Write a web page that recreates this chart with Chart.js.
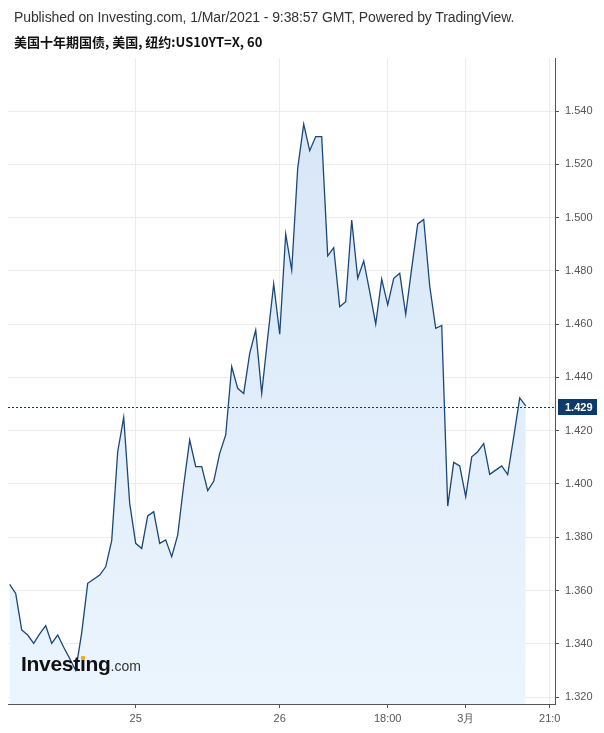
<!DOCTYPE html>
<html>
<head>
<meta charset="utf-8">
<script src="https://cdn.jsdelivr.net/npm/chart.js@4.4.1/dist/chart.umd.min.js"></script>
<style>
    body { margin: 0; background: #fff; }
    #wrap { position: relative; width: 604px; height: 733px; overflow: hidden; }
    #chart { position: absolute; left: 0; top: 0; }
    .head { position: absolute; left: 14px; white-space: nowrap; }
    #line1 { top: 9px; font: 14px "Liberation Sans", Arial, sans-serif; color: #333; letter-spacing: -0.1px; }
    #line2 { top: 32px; font: bold 13px "Noto Sans CJK SC", "Liberation Sans", sans-serif; color: #111; }
    #logo { position: absolute; left: 21px; top: 652px; white-space: nowrap; }
    #logo b { font: bold 21px "Liberation Sans", Arial, sans-serif; color: #111; letter-spacing: -0.3px; }
    #logo span.com { font: 14px "Liberation Sans", Arial, sans-serif; color: #333; }
    #logo .i { position: relative; }
    #logo .i::after { content: ''; position: absolute; left: 1px; top: 4px; width: 4px; height: 4px; background: #f5a623; border-radius: 1px; }
</style>
</head>
<body>
<div id="wrap">
    <canvas id="chart" width="604" height="733"></canvas>
    <div class="head" id="line1">Published on Investing.com, 1/Mar/2021 - 9:38:57 GMT, Powered by TradingView.</div>
    <div class="head" id="line2">美国十年期国债, 美国, 纽约:US10YT=X, 60</div>
    <div id="logo"><b>Invest<span class="i">ı</span>ng</b><span class="com">.com</span></div>
</div>
<script>
// hourly closes, one per bar (bar index 0..86)
const yieldValues = [
    1.3623, 1.3589, 1.3452, 1.3433, 1.3402, 1.3437, 1.3468, 1.3402, 1.3433, 1.3387,
    1.3345, 1.3300, 1.3441, 1.3627, 1.3642, 1.3658, 1.3689, 1.3787, 1.4121, 1.4250,
    1.3927, 1.3777, 1.3758, 1.3880, 1.3896, 1.3777, 1.3790, 1.3727, 1.3808, 1.3996,
    1.4165, 1.4065, 1.4065, 1.3975, 1.4010, 1.4115, 1.4184, 1.4440, 1.4359, 1.4340,
    1.4490, 1.4578, 1.4340, 1.4550, 1.4751, 1.4562, 1.4938, 1.4803, 1.5185, 1.5351,
    1.5251, 1.5304, 1.5304, 1.4856, 1.4887, 1.4665, 1.4684, 1.4991, 1.4772, 1.4837,
    1.4722, 1.4600, 1.4769, 1.4672, 1.4772, 1.4791, 1.4637, 1.4810, 1.4976, 1.4993,
    1.4743, 1.4584, 1.4595, 1.3917, 1.4081, 1.4068, 1.3952, 1.4102, 1.4121, 1.4152,
    1.4036, 1.4052, 1.4068, 1.4035, 1.4177, 1.4323, 1.4293
];
const lastValue = 1.429;

// time axis labels and the bar index they sit on
const xTickLabels = ['25', '26', '18:00', '3月', '21:0'];
const xTickIndex = [21, 45, 63, 76, 90];

const yTickValues = [1.32, 1.34, 1.36, 1.38, 1.40, 1.42, 1.44, 1.46, 1.48, 1.50, 1.52, 1.54];

const navy = '#0d3a68';

const lastPricePlugin = {
    id: 'lastPrice',
    afterDatasetsDraw(chart) {
        const ctx = chart.ctx;
        const area = chart.chartArea;
        const y = Math.round(chart.scales.y.getPixelForValue(lastValue)) + 0.5;
        ctx.save();
        ctx.strokeStyle = navy;
        ctx.lineWidth = 1;
        ctx.setLineDash([2, 2]);
        ctx.beginPath();
        ctx.moveTo(area.left, y);
        ctx.lineTo(area.right, y);
        ctx.stroke();
        ctx.restore();
    },
    afterDraw(chart) {
        const ctx = chart.ctx;
        const area = chart.chartArea;
        const y = Math.round(chart.scales.y.getPixelForValue(lastValue));
        ctx.save();
        ctx.fillStyle = navy;
        ctx.fillRect(area.right + 3, y - 8, 39, 16);
        ctx.fillStyle = '#fff';
        ctx.font = 'bold 11px "Liberation Sans", Arial, sans-serif';
        ctx.textBaseline = 'middle';
        ctx.fillText(lastValue.toFixed(3), area.right + 10, y + 1);
        ctx.restore();
    }
};

function drawChart() {
    const ctx = document.getElementById('chart').getContext('2d');
    const points = yieldValues.map((v, i) => ({ x: i, y: v }));

    new Chart(ctx, {
        type: 'line',
        data: {
            datasets: [{
                data: points,
                borderColor: '#1a4777',
                borderWidth: 1.3,
                pointRadius: 0,
                tension: 0,
                fill: 'start',
                backgroundColor: function (c) {
                    const area = c.chart.chartArea;
                    if (!area) return 'rgba(220,233,247,1)';
                    const g = c.chart.ctx.createLinearGradient(0, area.top, 0, area.bottom);
                    g.addColorStop(0, '#d5e4f5');
                    g.addColorStop(1, '#ebf5fe');
                    return g;
                }
            }]
        },
        options: {
            responsive: false,
            animation: false,
            devicePixelRatio: 1,
            layout: { padding: { left: 8, top: 58, right: 0, bottom: 0 } },
            plugins: { legend: { display: false }, tooltip: { enabled: false } },
            scales: {
                x: {
                    type: 'linear',
                    position: 'bottom',
                    min: -0.283,
                    max: 90.88,
                    afterBuildTicks: scale => { scale.ticks = xTickIndex.map(v => ({ value: v })); },
                    afterFit: scale => { scale.height = 29; },
                    ticks: {
                        autoSkip: false,
                        maxRotation: 0,
                        padding: 4,
                        color: '#555',
                        font: { family: '"Liberation Sans", Arial, sans-serif', size: 11 },
                        callback: (value, index) => xTickLabels[index]
                    },
                    grid: { color: '#ececec', tickColor: '#555', tickLength: 4 },
                    border: { color: '#555' }
                },
                y: {
                    type: 'linear',
                    position: 'right',
                    min: 1.3174,
                    max: 1.5599,
                    afterBuildTicks: scale => { scale.ticks = yTickValues.map(v => ({ value: v })); },
                    afterFit: scale => { scale.width = 49; },
                    ticks: {
                        padding: 6,
                        color: '#555',
                        font: { family: '"Liberation Sans", Arial, sans-serif', size: 11 },
                        callback: value => value.toFixed(3)
                    },
                    grid: { color: '#ececec', tickColor: '#555', tickLength: 4 },
                    border: { color: '#555' }
                }
            }
        },
        plugins: [lastPricePlugin]
    });
}

drawChart();
</script>
</body>
</html>
